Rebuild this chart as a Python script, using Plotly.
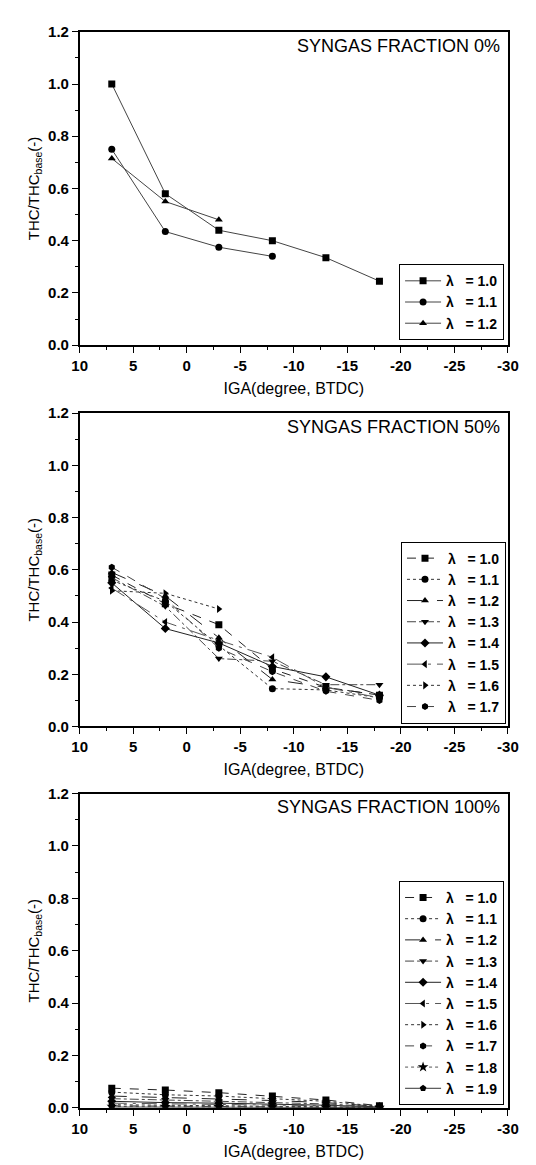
import plotly.graph_objects as go

# ---------------- data ----------------
iga = [7, 2, -3, -8, -13, -18]

# Panel 1: syngas fraction 0%
p1_labels = ["1.0", "1.1", "1.2"]
p1_l10 = [1.00, 0.58, 0.44, 0.40, 0.335, 0.245]
p1_l11 = [0.75, 0.435, 0.375, 0.34]
p1_l12 = [0.715, 0.55, 0.48]
p1_values = [p1_l10, p1_l11, p1_l12]

# Panel 2: syngas fraction 50%
p2_labels = ["1.0", "1.1", "1.2", "1.3", "1.4", "1.5", "1.6", "1.7"]
p2_l10 = [0.58, 0.47, 0.39, 0.22, 0.15, 0.12]
p2_l11 = [0.56, 0.48, 0.31, 0.145, 0.14, 0.11]
p2_l12 = [0.59, 0.50, 0.34, 0.18, 0.15, 0.12]
p2_l13 = [0.57, 0.46, 0.26, 0.25, 0.16, 0.16]
p2_l14 = [0.55, 0.375, 0.32, 0.23, 0.19, 0.12]
p2_l15 = [0.53, 0.40, 0.33, 0.265, 0.15, 0.11]
p2_l16 = [0.52, 0.51, 0.45]
p2_l17 = [0.61, 0.49, 0.30, 0.21, 0.135, 0.10]
p2_values = [p2_l10, p2_l11, p2_l12, p2_l13, p2_l14, p2_l15, p2_l16, p2_l17]

# Panel 3: syngas fraction 100%
p3_labels = ["1.0", "1.1", "1.2", "1.3", "1.4", "1.5", "1.6", "1.7", "1.8", "1.9"]
p3_l10 = [0.075, 0.068, 0.058, 0.045, 0.030, 0.008]
p3_l11 = [0.060, 0.050, 0.045, 0.035, 0.025, 0.006]
p3_l12 = [0.045, 0.040, 0.035, 0.028, 0.020, 0.005]
p3_l13 = [0.035, 0.030, 0.025, 0.020, 0.015, 0.004]
p3_l14 = [0.025, 0.020, 0.018, 0.015, 0.010, 0.003]
p3_l15 = [0.018, 0.015, 0.012, 0.010, 0.008, 0.002]
p3_l16 = [0.012, 0.010, 0.008, 0.007, 0.005, 0.002]
p3_l17 = [0.008, 0.007, 0.006, 0.005, 0.003, 0.001]
p3_l18 = [0.005, 0.004, 0.004, 0.003, 0.002, 0.001]
p3_l19 = [0.003, 0.003, 0.002, 0.002, 0.001, 0.001]
p3_values = [p3_l10, p3_l11, p3_l12, p3_l13, p3_l14, p3_l15, p3_l16, p3_l17, p3_l18, p3_l19]

panel_titles = ["SYNGAS FRACTION 0%", "SYNGAS FRACTION 50%", "SYNGAS FRACTION 100%"]
x_ticks = [10, 5, 0, -5, -10, -15, -20, -25, -30]
y_ticks = [0.0, 0.2, 0.4, 0.6, 0.8, 1.0, 1.2]

# ---------------- styling ----------------
symbols = ["square", "circle", "triangle-up", "triangle-down", "diamond",
           "triangle-left", "triangle-right", "hexagon", "star", "pentagon"]
dashes = ["dash", "dot", "longdash", "dashdot", "solid", "longdashdot",
          "dot", "dash", "dot", "solid"]
line_cols = ["#222", "#333", "#222", "#444", "#222", "#555", "#333", "#444", "#555", "#333"]

FONT = "Liberation Sans, Arial, sans-serif"
W, H = 536, 1165
x0, x1 = 66 / W, 510 / W
panels_px = [(15, 333), (402, 720), (788, 1107)]
legend_px = [(506, 328), (508, 717), (506, 1104)]

fig = go.Figure()
all_labels = [p1_labels, p2_labels, p3_labels]
all_values = [p1_values, p2_values, p3_values]
legend_names = ["legend", "legend2", "legend3"]

for p in range(3):
    ax = "" if p == 0 else str(p + 1)
    for i, (lab, vals) in enumerate(zip(all_labels[p], all_values[p])):
        fig.add_trace(go.Scatter(
            x=iga[:len(vals)], y=vals,
            mode="lines+markers",
            name="\u03bb\u00a0\u00a0 = " + lab,
            xaxis="x" + ax, yaxis="y" + ax,
            legend=legend_names[p],
            line=dict(color=line_cols[i] if p > 0 else "#444", width=1,
                      dash=dashes[i] if p > 0 else "solid"),
            marker=dict(symbol=symbols[i], size=7 if symbols[i] != "star" else 8,
                        color="black", line=dict(width=0)),
        ))

layout = dict(
    width=W, height=H,
    margin=dict(l=0, r=0, t=0, b=0),
    paper_bgcolor="white", plot_bgcolor="white",
    font=dict(family=FONT, color="black"),
    showlegend=True,
    annotations=[],
)

for p in range(3):
    top, bot = panels_px[p]
    ydom = [1 - bot / H, 1 - top / H]
    ax = "" if p == 0 else str(p + 1)
    layout["xaxis" + ax] = dict(
        domain=[x0, x1], range=[10, -30], anchor="y" + ax,
        tickvals=x_ticks, ticktext=[str(v) for v in x_ticks],
        ticks="outside", ticklen=6, tickwidth=1.2, tickcolor="black",
        minor=dict(ticks="outside", ticklen=3, tickcolor="black", dtick=2.5),
        showline=True, linecolor="black", linewidth=1.5, mirror=True,
        showgrid=False, zeroline=False,
        tickfont=dict(family=FONT, size=15, color="black", weight="bold"),
        title=dict(text="IGA(degree, BTDC)", font=dict(family=FONT, size=16),
                   standoff=10),
    )
    layout["yaxis" + ax] = dict(
        domain=ydom, range=[0, 1.2], anchor="x" + ax,
        tickvals=y_ticks, ticktext=["%.1f" % v for v in y_ticks],
        ticks="outside", ticklen=6, tickwidth=1.2, tickcolor="black",
        minor=dict(ticks="outside", ticklen=3, tickcolor="black", dtick=0.1),
        showline=True, linecolor="black", linewidth=1.5, mirror=True,
        showgrid=False, zeroline=False,
        tickfont=dict(family=FONT, size=15, color="black", weight="bold"),
        title=dict(text="THC/THC<sub>base</sub>(-)", font=dict(family=FONT, size=15),
                   standoff=5),
    )
    lx, ly = legend_px[p]
    layout[legend_names[p]] = dict(
        x=lx / W, y=1 - ly / H, xanchor="right", yanchor="bottom",
        xref="paper", yref="paper",
        bgcolor="white", bordercolor="black", borderwidth=1,
        font=dict(family=FONT, size=14, color="black", weight="bold"),
        tracegroupgap=0, itemwidth=36,
    )
    layout["annotations"].append(dict(
        text=panel_titles[p], xref="paper", yref="paper",
        x=504 / W, y=1 - (top + 14) / H, xanchor="right", yanchor="middle",
        showarrow=False, font=dict(family=FONT, size=18, color="black"),
    ))

fig.update_layout(**layout)
fig.write_html("out.html")
